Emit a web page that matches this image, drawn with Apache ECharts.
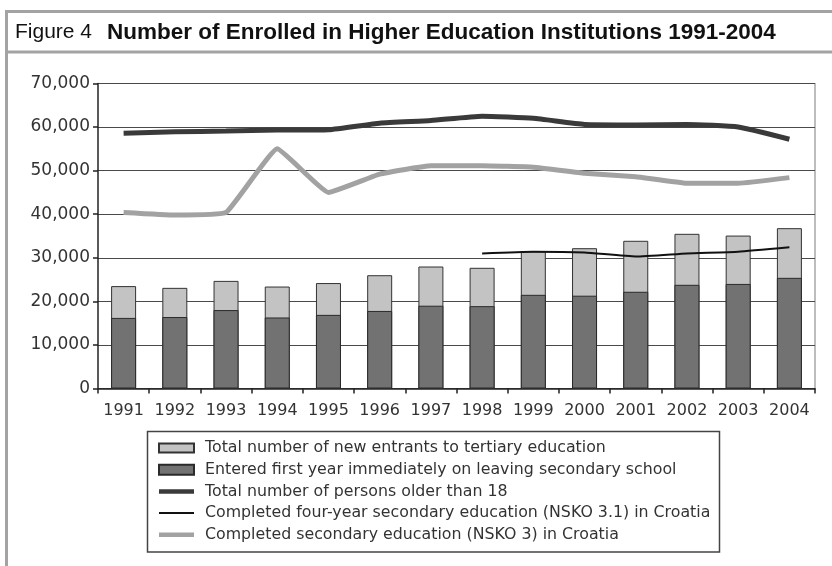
<!DOCTYPE html>
<html>
<head>
<meta charset="utf-8">
<script src="https://cdn.jsdelivr.net/npm/echarts@6/dist/echarts.min.js"></script>
<style>
  html, body { margin: 0; padding: 0; background: #ffffff; }
  #chart { width: 832px; height: 566px; }
</style>
</head>
<body>
<div id="chart"></div>
<script>
// Enrolment in higher education, 1991-2004
const years = ['1991', '1992', '1993', '1994', '1995', '1996', '1997',
               '1998', '1999', '2000', '2001', '2002', '2003', '2004'];

// Bars (overlaid): total new entrants and the subset entering straight from school
const newEntrants      = [23500, 23100, 24700, 23400, 24200, 26000, 28000,
                          27700, 31500, 32200, 33900, 35500, 35100, 36800];
const enteredFirstYear = [16200, 16400, 18000, 16300, 16900, 17800, 19000,
                          18900, 21500, 21300, 22200, 23800, 24000, 25400];

// Lines
const olderThan18 = [58600, 58900, 59100, 59300, 59400, 60900, 61500,
                     62500, 62000, 60600, 60500, 60600, 60000, 57200];
const nsko31      = [null, null, null, null, null, null, null,
                     31000, 31400, 31200, 30300, 31000, 31400, 32400];
const nsko3       = [40400, 39800, 40400, 55000, 45000, 49200, 51100,
                     51100, 50800, 49400, 48600, 47100, 47100, 48400];

const yTicks = { min: 0, max: 70000, interval: 10000 };

const names = [
  'Total number of new entrants to tertiary education',
  'Entered first year immediately on leaving secondary school',
  'Total number of persons older than 18',
  'Completed four-year secondary education (NSKO 3.1) in Croatia',
  'Completed secondary education (NSKO 3) in Croatia'
];

const FONT = '"DejaVu Sans", sans-serif';
const frameGrey = '#a3a3a3';

const chart = echarts.init(document.getElementById('chart'), null, { renderer: 'canvas' });

chart.setOption({
  backgroundColor: '#ffffff',
  animation: false,
  grid: { left: 98, right: 17, top: 83.5, bottom: 177.5, containLabel: false },
  xAxis: {
    type: 'category',
    data: years,
    boundaryGap: true,
    axisLine: { lineStyle: { color: '#222', width: 1.5 } },
    axisTick: { show: true, length: 5, lineStyle: { color: '#222', width: 1.5 } },
    axisLabel: { color: '#333', fontFamily: FONT, fontSize: 16, margin: 14, interval: 0, hideOverlap: false },
    splitLine: { show: false }
  },
  yAxis: {
    type: 'value',
    min: yTicks.min,
    max: yTicks.max,
    interval: yTicks.interval,
    axisLine: { show: true, lineStyle: { color: '#222', width: 1.5 } },
    axisTick: { show: true, length: 5, lineStyle: { color: '#222', width: 1.5 } },
    axisLabel: {
      color: '#333', fontFamily: FONT, fontSize: 17, margin: 8,
      formatter: v => v.toLocaleString('en-US')
    },
    splitLine: { show: true, lineStyle: { color: '#4a4a4a', width: 1.2 } }
  },
  legend: {
    orient: 'vertical',
    left: 158,
    top: 440,
    padding: 0,
    itemGap: 5.7,
    itemWidth: 35,
    itemHeight: 11,
    symbolKeepAspect: true,
    textStyle: { color: '#333', fontFamily: FONT, fontSize: 15.8, lineHeight: 16, padding: [0, 0, 0, 6] },
    data: [
      { name: names[0], icon: 'path://M0,0H35V9H0Z' },
      { name: names[1], icon: 'path://M0,0H35V10H0Z' },
      { name: names[2], icon: 'path://M0,0H35V4.5H0Z', itemStyle: { borderWidth: 0 } },
      { name: names[3], icon: 'path://M0,0H35V2H0Z', itemStyle: { borderWidth: 0 } },
      { name: names[4], icon: 'path://M0,0H35V4.5H0Z', itemStyle: { borderWidth: 0 } }
    ],
    selectedMode: false
  },
  series: [
    {
      name: names[0],
      type: 'bar',
      data: newEntrants,
      barWidth: 25,
      barGap: '-100%',
      itemStyle: { color: '#c3c3c3', borderColor: '#333', borderWidth: 1 },
      z: 2
    },
    {
      name: names[1],
      type: 'bar',
      data: enteredFirstYear,
      barWidth: 25,
      barGap: '-100%',
      itemStyle: { color: '#727272', borderColor: '#2a2a2a', borderWidth: 1 },
      z: 3
    },
    {
      name: names[2],
      type: 'line',
      data: olderThan18,
      symbol: 'none',
      smooth: 0.15,
      itemStyle: { color: '#3a3a3a', borderWidth: 0 },
      lineStyle: { color: '#3a3a3a', width: 5 },
      z: 5
    },
    {
      name: names[3],
      type: 'line',
      data: nsko31,
      symbol: 'none',
      smooth: 0.15,
      itemStyle: { color: '#111', borderWidth: 0 },
      lineStyle: { color: '#111', width: 2 },
      z: 6
    },
    {
      name: names[4],
      type: 'line',
      data: nsko3,
      symbol: 'none',
      smooth: 0.1,
      itemStyle: { color: '#a2a2a2', borderWidth: 0 },
      lineStyle: { color: '#a2a2a2', width: 5 },
      z: 4
    }
  ],
  graphic: [
    // page frame: top rule, title separator, left rule
    { type: 'line', shape: { x1: 5, y1: 11.5, x2: 832, y2: 11.5 }, style: { stroke: frameGrey, lineWidth: 3 } },
    { type: 'line', shape: { x1: 5, y1: 52, x2: 832, y2: 52 }, style: { stroke: frameGrey, lineWidth: 3 } },
    { type: 'line', shape: { x1: 6.5, y1: 10, x2: 6.5, y2: 566 }, style: { stroke: frameGrey, lineWidth: 3 } },
    // title
    { type: 'text', x: 15, y: 32.5, style: {
        text: 'Figure 4', fill: '#111', font: 'normal 21px "Liberation Sans", Arial, sans-serif',
        verticalAlign: 'middle', align: 'left' } },
    { type: 'text', x: 107, y: 32.5, style: {
        text: 'Number of Enrolled in Higher Education Institutions 1991-2004', fill: '#111',
        font: 'bold 22.5px "Liberation Sans", Arial, sans-serif',
        verticalAlign: 'middle', align: 'left' } },
    // right edge of the plot area
    { type: 'line', shape: { x1: 815, y1: 83, x2: 815, y2: 389 }, style: { stroke: '#bdbdbd', lineWidth: 2 } },
    // legend frame
    { type: 'rect', shape: { x: 147.5, y: 431.5, width: 572, height: 120.5 },
      style: { fill: 'none', stroke: '#444', lineWidth: 1.5 }, z: 0 }
  ]
});
</script>
</body>
</html>
